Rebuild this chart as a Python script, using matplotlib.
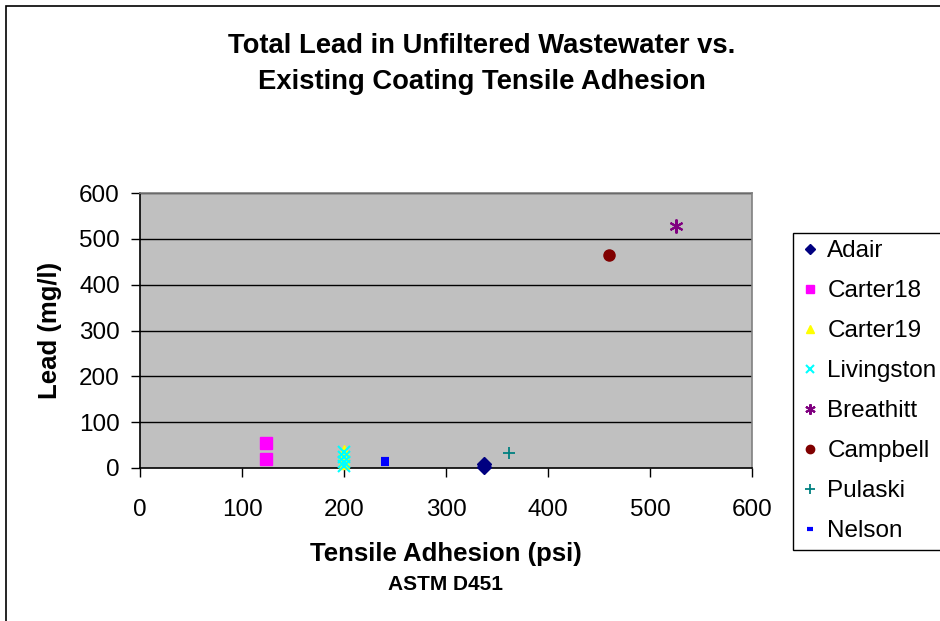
import matplotlib
matplotlib.use("Agg")
import matplotlib.pyplot as plt
from matplotlib.patches import Rectangle

plt.rcParams['font.family'] = ['Liberation Sans', 'DejaVu Sans']

# ---- data ----
series_names = ["Adair", "Carter18", "Carter19", "Livingston", "Breathitt", "Campbell", "Pulaski", "Nelson"]
adair_x = [337, 337]
adair_y = [3, 8]
carter18_x = [124, 124]
carter18_y = [54, 20]
carter19_x = [200, 200, 200, 200]
carter19_y = [40, 29, 18, 9]
livingston_x = [200, 200, 200, 200]
livingston_y = [35, 24, 14, 4]
breathitt_x = [525]
breathitt_y = [527]
campbell_x = [460]
campbell_y = [464]
pulaski_x = [362]
pulaski_y = [33]
nelson_x = [240, 240, 240]
nelson_y = [8, 14, 20]

x_ticks = [0, 100, 200, 300, 400, 500, 600]
y_ticks = [0, 100, 200, 300, 400, 500, 600]

styles = [
    dict(marker='D', color='#000080', ms=7),
    dict(marker='s', color='#FF00FF', ms=8),
    dict(marker='^', color='#FFFF00', ms=7),
    dict(marker='x', color='#00FFFF', ms=8, mew=1.5),
    dict(marker=(6, 2, 0), color='#800080', ms=10, mew=1.5),
    dict(marker='o', color='#800000', ms=8),
    dict(marker='+', color='#008080', ms=9, mew=1.3),
    dict(marker='_', color='#0000FF', ms=6, mew=3),
]
data = [(adair_x, adair_y), (carter18_x, carter18_y), (carter19_x, carter19_y),
        (livingston_x, livingston_y), (breathitt_x, breathitt_y), (campbell_x, campbell_y),
        (pulaski_x, pulaski_y), (nelson_x, nelson_y)]

W, H = 940, 621
fig = plt.figure(figsize=(W / 100, H / 100), dpi=100)
fig.patch.set_facecolor('white')
# outer chart border
fig.add_artist(Rectangle((6 / W, -0.1), 1.1, 1 - 6 / H + 0.1, transform=fig.transFigure,
                         fill=False, edgecolor='black', lw=1.2))

ax = fig.add_axes([140 / W, 1 - 468 / H, 612 / W, 275 / H])
ax.set_facecolor('#C0C0C0')
ax.set_xlim(0, 600)
ax.set_ylim(0, 600)
ax.set_xticks(x_ticks)
ax.set_yticks(y_ticks)
ax.tick_params(axis='both', labelsize=17.5, direction='out', length=6.5, width=1, color='black')
ax.tick_params(axis='x', pad=16)
ax.tick_params(axis='y', pad=8)
for yv in y_ticks[1:]:
    ax.axhline(yv, color='black', lw=1, zorder=1)
ax.spines['top'].set_color('#808080')
ax.spines['right'].set_color('#808080')
ax.spines['left'].set_color('black')
ax.spines['bottom'].set_color('black')
for s in ax.spines.values():
    s.set_linewidth(1.2)

handles = []
for name, (xs, ys), st in zip(series_names, data, styles):
    h, = ax.plot(xs, ys, linestyle='none', marker=st['marker'], color=st['color'],
                 markersize=st['ms'], markeredgewidth=st.get('mew', 1), label=name, zorder=3,
                 clip_on=False)
    handles.append(h)

fig.text(446 / W, 1 - 554 / H, 'Tensile Adhesion (psi)', ha='center', va='center',
         fontsize=18.5, fontweight='bold')
fig.text(50 / W, 1 - 330 / H, 'Lead (mg/l)', ha='center', va='center', rotation=90,
         fontsize=18.5, fontweight='bold')
fig.text(445 / W, 1 - 585 / H, 'ASTM D451', ha='center', va='center', fontsize=15, fontweight='bold')
fig.text(482 / W, 1 - 46 / H, 'Total Lead in Unfiltered Wastewater vs.',
         ha='center', va='center', fontsize=19.7, fontweight='bold')
fig.text(482 / W, 1 - 82 / H, 'Existing Coating Tensile Adhesion',
         ha='center', va='center', fontsize=19.7, fontweight='bold')

leg = fig.legend(handles=handles, loc='upper left', bbox_to_anchor=(793 / W, 1 - 233 / H),
                 fontsize=17.5, frameon=True, fancybox=False, edgecolor='black', framealpha=1,
                 handlelength=0.8, handletextpad=0.31, labelspacing=0.74, borderpad=0.3,
                 borderaxespad=0, markerscale=0.75)
leg.get_frame().set_linewidth(1.0)

fig.savefig('out.png', dpi=100)
